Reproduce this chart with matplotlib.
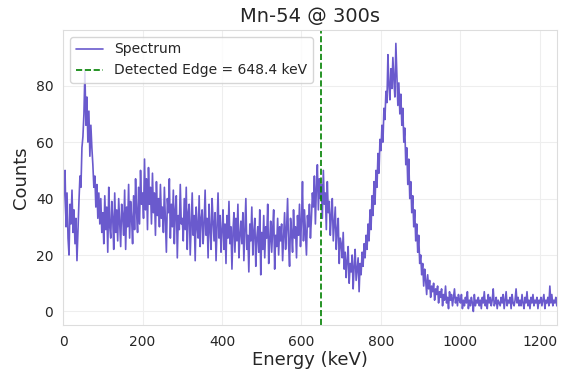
import numpy as np
import matplotlib
matplotlib.use("Agg")
import matplotlib.pyplot as plt
import seaborn as sns

title = "Mn-54 @ 300s"
edge_kev = 648.4
energy_step = 2.5

counts = [
    32, 45, 50, 30, 42, 26, 20, 38, 31, 43, 28, 36, 24, 33, 18, 29, 39, 48, 44, 58,
    62, 70, 85, 66, 76, 60, 71, 55, 66, 58, 52, 44, 48, 37, 45, 33, 42, 31, 40, 28,
    35, 24, 41, 29, 37, 21, 44, 30, 26, 39, 33, 22, 42, 28, 36, 25, 40, 31, 23, 38,
    34, 27, 43, 22, 37, 30, 45, 26, 39, 33, 24, 41, 29, 47, 35, 28, 44, 31, 50, 38,
    42, 33, 54, 36, 47, 29, 51, 38, 44, 31, 49, 35, 42, 27, 46, 34, 40, 30, 45, 33,
    37, 28, 44, 32, 21, 40, 35, 47, 26, 38, 30, 43, 24, 36, 41, 19, 34, 29, 45, 31,
    33, 25, 40, 29, 44, 22, 35, 38, 20, 31, 42, 27, 34, 18, 37, 30, 26, 41, 23, 33,
    36, 24, 31, 43, 27, 33, 19, 38, 29, 22, 40, 32, 25, 35, 18, 30, 42, 26, 34, 21,
    29, 36, 22, 31, 17, 34, 26, 39, 24, 30, 15, 28, 35, 21, 33, 25, 38, 19, 27, 32,
    24, 35, 18, 29, 40, 22, 27, 14, 31, 25, 37, 20, 28, 33, 16, 26, 30, 21, 36, 13,
    28, 22, 34, 19, 30, 26, 38, 17, 25, 32, 21, 29, 36, 15, 27, 23, 33, 20, 30, 25,
    31, 18, 27, 35, 22, 29, 40, 24, 16, 33, 28, 21, 36, 26, 30, 19, 34, 27, 38, 23,
    32, 46, 25, 36, 28, 20, 34, 30, 38, 26, 33, 42, 37, 48, 31, 44, 52, 36, 47, 40,
    45, 33, 50, 38, 42, 29, 46, 35, 39, 27, 34, 40, 25, 31, 37, 22, 29, 33, 17, 26,
    24, 19, 28, 15, 21, 12, 18, 23, 10, 17, 14, 20, 8, 16, 22, 11, 15, 19, 7, 17,
    13, 21, 16, 24, 19, 27, 22, 31, 25, 36, 29, 41, 34, 46, 38, 50, 44, 56, 49, 61,
    57, 66, 60, 72, 68, 78, 74, 91, 80, 75, 86, 79, 90, 82, 76, 95, 84, 73, 81, 70,
    77, 66, 72, 60, 65, 52, 58, 45, 54, 40, 46, 35, 41, 30, 36, 25, 31, 21, 27, 17,
    20, 13, 17, 9, 15, 11, 6, 13, 8, 11, 5, 9, 7, 10, 4, 8, 6, 9, 3, 7,
    5, 8, 2, 6, 4, 9, 3, 5, 1, 7, 4, 6, 2, 5, 8, 3, 5, 2, 6, 4,
    3, 6, 1, 4, 2, 5, 3, 7, 1, 4, 2, 5, 3, 0, 6, 2, 4, 3, 5, 2,
    4, 1, 5, 3, 7, 2, 4, 1, 6, 3, 5, 2, 4, 8, 2, 3, 5, 1, 4, 3,
    2, 5, 3, 6, 1, 4, 7, 2, 4, 3, 5, 1, 6, 3, 2, 4, 8, 3, 5, 2,
    4, 2, 6, 3, 1, 5, 3, 7, 2, 4, 1, 5, 3, 6, 2, 4, 3, 5, 1, 4,
    3, 5, 2, 4, 6, 1, 4, 3, 5, 2, 9, 3, 6, 2, 4, 3, 5, 2,
]
energy = np.arange(len(counts)) * energy_step

sns.set_style("whitegrid", {"grid.color": "#eeeeee", "axes.edgecolor": "#dddddd"})
plt.rcParams['font.family'] = ['DejaVu Sans']

fig, ax = plt.subplots(figsize=(5.63, 3.70), dpi=100)
fig.subplots_adjust(left=0.112, right=0.989, top=0.919, bottom=0.122)

ax.plot(energy, counts, color="#6a5acd", lw=1.2, label="Spectrum")
ax.axvline(edge_kev, color="green", ls="--", lw=1.2,
           label=f"Detected Edge = {edge_kev:.1f} keV")

ax.set_xlim(0, energy[-1])
ax.set_ylim(-4.75, 99.75)
ax.set_xticks([0, 200, 400, 600, 800, 1000, 1200])
ax.set_yticks([0, 20, 40, 60, 80])
ax.tick_params(labelsize=10, colors="#262626")
ax.set_xlabel("Energy (keV)", fontsize=13, color="#262626", labelpad=2)
ax.set_ylabel("Counts", fontsize=13, color="#262626")
ax.set_title(title, fontsize=14, color="#262626", pad=6)
ax.legend(loc="upper left", fontsize=10, frameon=True)

fig.savefig("out.png", dpi=100)
